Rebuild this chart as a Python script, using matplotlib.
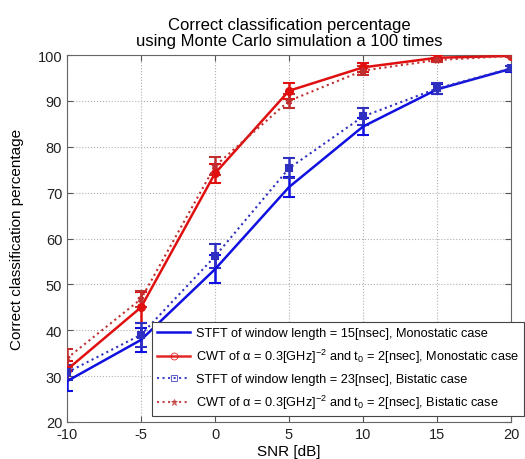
import matplotlib
matplotlib.use("Agg")
import matplotlib.pyplot as plt

plt.rcParams['font.family'] = ['Liberation Sans', 'DejaVu Sans']
plt.rcParams['mathtext.fontset'] = 'custom'
plt.rcParams['mathtext.rm'] = 'Liberation Sans'
plt.rcParams['mathtext.it'] = 'Liberation Sans'
plt.rcParams['axes.unicode_minus'] = False

snr = [-10, -5, 0, 5, 10, 15, 20]

stft_mono = [28.9, 37.9, 53.3, 71.2, 84.4, 92.5, 97.0]
stft_mono_err = [2.2, 2.6, 3.0, 2.1, 1.8, 1.1, 0.7]

cwt_mono = [31.4, 45.0, 74.2, 92.2, 97.3, 99.4, 99.8]
cwt_mono_err = [2.0, 3.4, 2.0, 1.8, 1.0, 0.5, 0.3]

stft_bi = [30.8, 39.0, 56.1, 75.3, 86.6, 92.7, 97.1]
stft_bi_err = [1.6, 2.6, 2.6, 2.2, 1.9, 1.2, 0.6]

cwt_bi = [33.9, 46.8, 75.8, 90.0, 96.6, 98.9, 99.8]
cwt_bi_err = [2.0, 1.8, 1.9, 1.6, 0.9, 0.5, 0.3]

labels = [
    "STFT of window length = 15[nsec], Monostatic case",
    r"CWT of α = 0.3[GHz]$^{-2}$ and t$_0$ = 2[nsec], Monostatic case",
    "STFT of window length = 23[nsec], Bistatic case",
    r"CWT of α = 0.3[GHz]$^{-2}$ and t$_0$ = 2[nsec], Bistatic case",
]

fig = plt.figure(figsize=(5.25, 4.6), dpi=100)
ax = fig.add_axes([67/525, 1-423/460, (511-67)/525, (423-56)/460])

blue = '#1010e0'
red = '#e01010'

series = [
    (stft_mono, stft_mono_err, blue, '-', '', 1.8),
    (cwt_mono, cwt_mono_err, red, '-', 'o', 1.8),
    (stft_bi, stft_bi_err, '#3030c0', ':', 's', 1.5),
    (cwt_bi, cwt_bi_err, '#c03030', ':', '*', 1.5),
]

handles = []
for (vals, err, col, ls, mk, lw), lab in zip(series, labels):
    ax.errorbar(snr, vals, yerr=err, color=col, linestyle=ls, linewidth=lw,
                marker=mk, markersize=5, markerfacecolor=col, markeredgewidth=1.5,
                capsize=4, capthick=1.8, elinewidth=1.8, zorder=3)
    h, = ax.plot([], [], color=col, linestyle=ls, linewidth=lw, marker=mk,
                 markersize=5, markerfacecolor='none', markeredgewidth=0.6,
                 alpha=1.0 if mk == '' else 0.9)
    handles.append(h)

ax.set_xlim(-10, 20)
ax.set_ylim(20, 100)
ax.set_xticks(snr)
ax.set_yticks(range(20, 101, 10))
ax.grid(True, linestyle=':', color='#b0b0b0', linewidth=0.8)
ax.tick_params(direction='in', labelsize=10.5, top=True, right=True, length=4,
               labelcolor='#222222', color='#555555')
for s in ax.spines.values():
    s.set_color('#666666')

ax.set_xlabel("SNR [dB]", fontsize=11, labelpad=2)
ax.set_ylabel("Correct classification percentage", fontsize=11, labelpad=10)
ax.set_title("Correct classification percentage\nusing Monte Carlo simulation a 100 times",
             fontsize=12, pad=7, linespacing=1.1)

leg = ax.legend(handles, labels, loc='upper left',
                bbox_to_anchor=(152/525, 1-323/460), bbox_transform=fig.transFigure,
                borderaxespad=0, fancybox=False, edgecolor='#444444', framealpha=1,
                fontsize=9.2, handlelength=2.6, labelspacing=0.62, borderpad=0.4,
                handletextpad=0.45)
leg.get_frame().set_linewidth(0.8)

fig.savefig("out.png", dpi=100)
